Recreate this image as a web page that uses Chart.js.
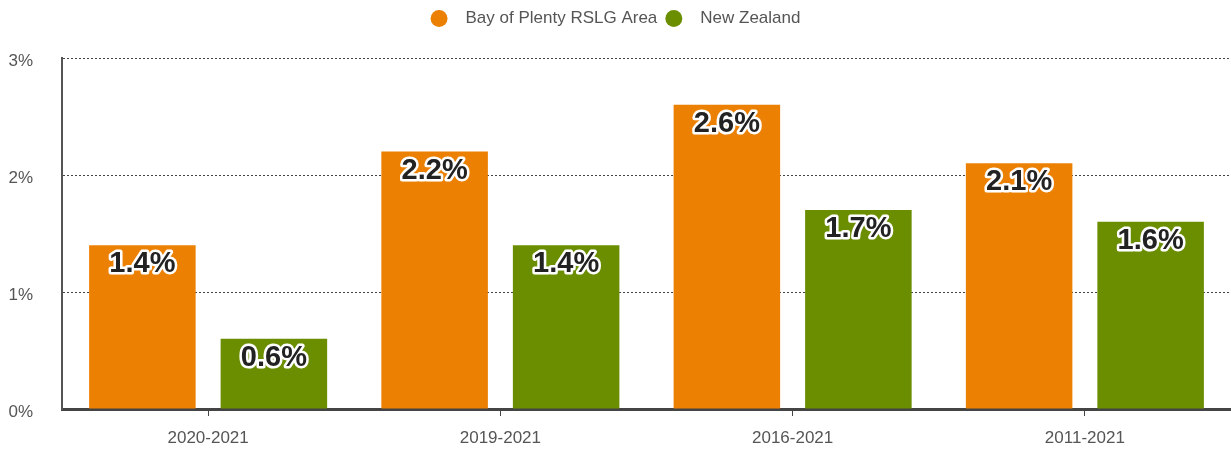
<!DOCTYPE html>
<html>
<head>
<meta charset="utf-8">
<script src="https://cdn.jsdelivr.net/npm/chart.js@4"></script>
<style>
  html, body { margin: 0; padding: 0; background: #fff; }
  #wrap { width: 1231px; height: 450px; }
</style>
</head>
<body>
<div id="wrap"><canvas id="growthChart"></canvas></div>
<script>
// values
const periods = ["2020-2021", "2019-2021", "2016-2021", "2011-2021"];
const bayOfPlenty = [1.4, 2.2, 2.6, 2.1];
const newZealand = [0.6, 1.4, 1.7, 1.6];
const yTicks = [0, 1, 2, 3];

const ORANGE = "#EC8003";
const GREEN = "#6A8E00";
const FONT = "'Liberation Sans', Arial, sans-serif";

// draws the outlined value label inside the top of each bar
const barLabels = {
  id: "barLabels",
  afterDatasetsDraw(chart) {
    const ctx = chart.ctx;
    ctx.save();
    ctx.font = "bold 29px " + FONT;
    ctx.textAlign = "center";
    ctx.textBaseline = "middle";
    ctx.lineJoin = "round";
    chart.data.datasets.forEach((ds, i) => {
      chart.getDatasetMeta(i).data.forEach((bar, j) => {
        const txt = ds.data[j].toFixed(1) + "%";
        const y = bar.y + 19;
        ctx.lineWidth = 5;
        ctx.strokeStyle = "#fff";
        ctx.strokeText(txt, bar.x, y);
        ctx.fillStyle = "#222";
        ctx.fillText(txt, bar.x, y);
      });
    });
    ctx.restore();
  }
};

// extra room under the legend
const legendGap = {
  id: "legendGap",
  beforeInit(chart) {
    const fit = chart.legend.fit;
    chart.legend.fit = function () {
      fit.call(this);
      this.height += 21;
    };
  }
};

document.addEventListener("DOMContentLoaded", () => {
  const ctx = document.getElementById("growthChart");
  new Chart(ctx, {
    type: "bar",
    data: {
      labels: periods,
      datasets: [
        { label: "Bay of Plenty RSLG Area", data: bayOfPlenty, backgroundColor: ORANGE, borderWidth: 0 },
        { label: "New Zealand", data: newZealand, backgroundColor: GREEN, borderWidth: 0 }
      ]
    },
    options: {
      responsive: true,
      maintainAspectRatio: false,
      animation: false,
      layout: { padding: { top: 2, right: 0, bottom: 0, left: 0 } },
      datasets: { bar: { categoryPercentage: 0.9, barPercentage: 0.81 } },
      plugins: {
        legend: {
          position: "top",
          labels: {
            usePointStyle: true,
            pointStyle: "circle",
            boxWidth: 17,
            boxHeight: 12,
            padding: 8,
            color: "#555",
            font: { family: FONT, size: 17 },
            generateLabels: chart => Chart.defaults.plugins.legend.labels.generateLabels(chart)
              .map(l => Object.assign(l, { text: "  " + l.text }))
          }
        },
        tooltip: { enabled: false }
      },
      scales: {
        x: {
          afterFit: s => { s.height = 41; },
          grid: { offset: false, drawOnChartArea: false, drawTicks: true, tickLength: 7, color: "#444", lineWidth: 1 },
          border: { display: true, color: "#444", width: 3 },
          ticks: {
            padding: 12,
            color: "#555",
            font: { family: FONT, size: 17 }
          }
        },
        y: {
          min: 0,
          max: 3,
          afterBuildTicks: s => { s.ticks = yTicks.map(v => ({ value: v })); },
          afterFit: s => { s.width = 62; },
          grid: { drawTicks: false, color: "#444", lineWidth: 1 },
          border: { display: true, color: "#555", width: 2, dash: [2, 2] },
          ticks: {
            padding: 29,
            labelOffset: 3,
            color: "#555",
            font: { family: FONT, size: 17 },
            callback: v => v + "%"
          }
        }
      }
    },
    plugins: [barLabels, legendGap]
  });
});
</script>
</body>
</html>
